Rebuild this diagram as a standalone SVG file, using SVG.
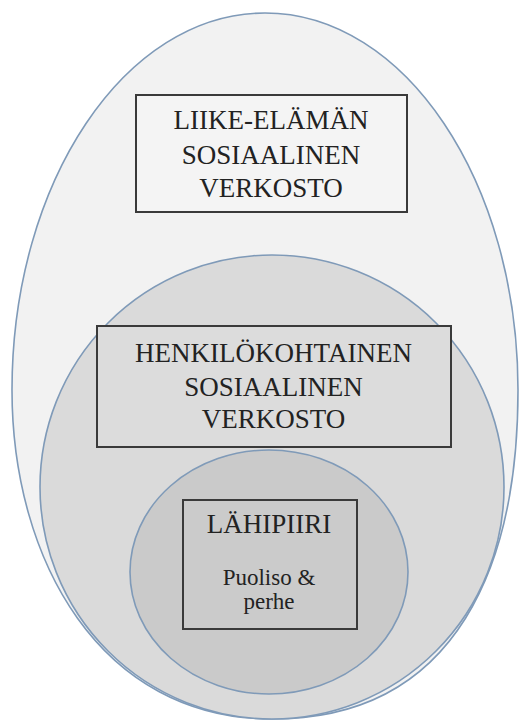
<svg xmlns="http://www.w3.org/2000/svg" width="520" height="720" viewBox="0 0 520 720">
<style>
.ring{stroke:#7f9ab8;stroke-width:1.6}
.box{stroke:#3a3a3a;stroke-width:2}
.t{fill:#222222;text-anchor:middle}
.big{font-size:27px}
.small{font-size:23px}
</style>
<rect width="520" height="720" fill="#ffffff"/>
<g id="outer">
<path class="ring" fill="#f2f2f2" d="M12,390 C12,182 125,13 265,13 C405,13 518,182 518,390 C518,560 460,719 272,719 C100,719 12,560 12,390 Z"/>
</g>
<g id="middle">
<circle class="ring" cx="272" cy="487" r="232" fill="#dadada"/>
</g>
<g id="inner">
<ellipse class="ring" cx="269" cy="572" rx="139" ry="122" fill="#cacaca"/>
</g>
<g font-family="Liberation Serif, Times New Roman, serif">
<g id="box-liike">
<rect class="box" x="136" y="95" width="271" height="117" fill="#f4f4f4"/>
<text class="t big" x="271" y="129">LIIKE-ELÄMÄN</text>
<text class="t big" x="271" y="164">SOSIAALINEN</text>
<text class="t big" x="271" y="197">VERKOSTO</text>
</g>
<g id="box-henk">
<rect class="box" x="97" y="326" width="354" height="121" fill="#dcdcdc"/>
<text class="t big" x="273.5" y="362">HENKILÖKOHTAINEN</text>
<text class="t big" x="273.5" y="396">SOSIAALINEN</text>
<text class="t big" x="273.5" y="428">VERKOSTO</text>
</g>
<g id="box-lahi">
<rect class="box" x="183" y="500" width="174" height="129" fill="#cbcbcb"/>
<text class="t big" x="269" y="533">LÄHIPIIRI</text>
<text class="t small" x="269" y="585">Puoliso &amp;</text>
<text class="t small" x="269" y="609">perhe</text>
</g>
</g>
<g id="connectors"/>
</svg>
